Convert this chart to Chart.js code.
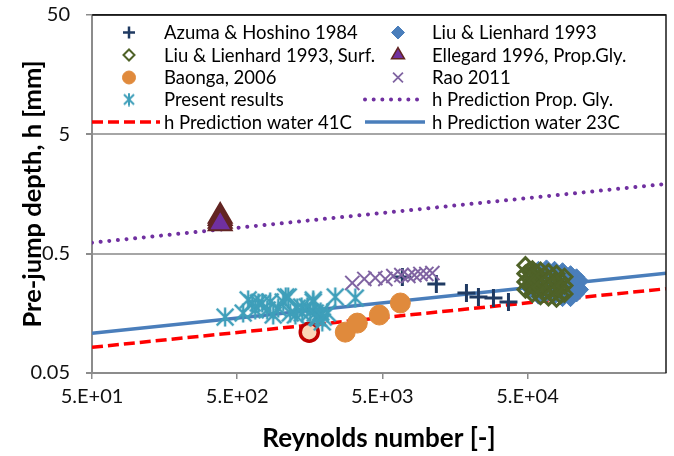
<!DOCTYPE html>
<html><head><meta charset="utf-8">
<script src="https://cdn.jsdelivr.net/npm/chart.js@4"></script>
<style>html,body{margin:0;padding:0;background:#fff}#c{display:block}</style>
</head><body>
<canvas id="c" width="674" height="456"></canvas>
<script>
// ---------- data ----------
const seriesNames = ['Azuma & Hoshino 1984','Liu & Lienhard 1993','Liu & Lienhard 1993, Surf.','Ellegard 1996, Prop.Gly.','Baonga, 2006','Rao 2011','Present results','h Prediction Prop. Gly.','h Prediction water 41C','h Prediction water 23C'];

const xTickValues = [50, 500, 5000, 50000];
const xTickLabels = ['5.E+01','5.E+02','5.E+03','5.E+04'];
const yTickValues = [0.05, 0.5, 5, 50];
const yTickLabels = ['0.05','0.5','5','50'];

const azumaRe = [6870, 11780, 18990, 22970, 29150, 36980];
const azumaH  = [0.319, 0.279, 0.234, 0.217, 0.2125, 0.197];

const liuRe = [52400,52400,52400, 59500,59500,59500,59500, 67600,67600,67600,67600, 76800,76800,76800,76800, 87200,87200,87200,87200, 99000,99000,99000,99000, 108900,108900,108900, 116000,116000];
const liuH  = [0.36,0.30,0.25, 0.37,0.31,0.26,0.22, 0.38,0.32,0.27,0.23, 0.37,0.31,0.26,0.22, 0.36,0.30,0.25,0.21, 0.34,0.29,0.24,0.21, 0.32,0.27,0.23, 0.295,0.25];

const liuSurfRe = [48400,48400,48400,48400, 51200,51200,51200, 54100,54100,54100,54100, 57700,57700,57700, 61500,61500,61500,61500, 65500,65500,65500, 69800,69800,69800,69800, 74300,74300,74300, 79200,79200,79200,79200, 84500,84500,84500, 89900,89900,89900];
const liuSurfH  = [0.40,0.34,0.29,0.25, 0.36,0.31,0.27, 0.37,0.32,0.27,0.23, 0.345,0.295,0.25, 0.36,0.30,0.26,0.22, 0.33,0.28,0.24, 0.35,0.30,0.25,0.215, 0.32,0.27,0.23, 0.34,0.29,0.245,0.21, 0.30,0.26,0.225, 0.32,0.27,0.23];

const ellegardRe = [382, 382, 382, 382];
const ellegardH  = [1.03, 0.986, 0.939, 0.895];

const baongaRe = [1569, 2778, 3362, 4767, 6655];
const baongaH  = [0.110, 0.110, 0.131, 0.153, 0.193];

const raoRe = [3105, 3757, 4474, 5245, 5954, 6761, 7556, 8310, 9143, 10055, 11060];
const raoH  = [0.284, 0.307, 0.313, 0.307, 0.325, 0.331, 0.325, 0.331, 0.338, 0.338, 0.344];

const presentRe = [413, 550, 595, 635, 666, 700, 744, 805, 844, 886, 959, 1038, 1080, 1124, 1160, 1260, 1297, 1390, 1404, 1520, 1594, 1672, 1672, 1726, 1770, 1810, 1880, 1929, 1960, 2088, 2371, 3257];
const presentH  = [0.147, 0.159, 0.205, 0.193, 0.169, 0.193, 0.193, 0.169, 0.197, 0.153, 0.175, 0.197, 0.217, 0.217, 0.159, 0.153, 0.175, 0.179, 0.159, 0.179, 0.162, 0.197, 0.205, 0.159, 0.147, 0.1445, 0.162, 0.134, 0.147, 0.159, 0.217, 0.2125];

const predRe = [50, 450000];
const predPropGlyH = [0.618, 1.92];
const pred41H = [0.0821, 0.254];
const pred23H = [0.1076, 0.342];

// ---------- helpers ----------
const pts = (xs, ys) => xs.map((x, i) => ({x: x, y: ys[i]}));

function asterisk(size, lw, color, k) {
  const c = document.createElement('canvas');
  c.width = size; c.height = size;
  const g = c.getContext('2d');
  g.strokeStyle = color; g.lineWidth = lw; g.lineCap = 'butt';
  const m = size / 2, d = size * k;
  g.beginPath();
  g.moveTo(m - d, m - d); g.lineTo(m + d, m + d);
  g.moveTo(m + d, m - d); g.lineTo(m - d, m + d);
  g.moveTo(m, 0.5); g.lineTo(m, size - 0.5);
  g.stroke();
  return c;
}
const cyan = '#3f9fba';
const starBig = asterisk(20, 2.4, cyan, 0.42);
const starSmall = asterisk(14, 2, cyan, 0.36);

const baongaBg = baongaRe.map((v, i) => i === 0 ? '#fbd5b6' : '#e08a3c');
const baongaBorder = baongaRe.map((v, i) => i === 0 ? '#c00000' : '#e08a3c');
const baongaBW = baongaRe.map((v, i) => i === 0 ? 3.5 : 1);
const baongaR = baongaRe.map((v, i) => i === 0 ? 9 : 10);

const datasets = [
  {label: seriesNames[0], data: pts(azumaRe, azumaH), pointStyle: 'cross', pointRadius: 9, pointBorderWidth: 3,
   borderColor: '#1f3a62', backgroundColor: '#1f3a62', order: 7},
  {label: seriesNames[1], data: pts(liuRe, liuH), pointStyle: 'rectRot', pointRadius: 8, pointBorderWidth: 1,
   borderColor: '#4a7ebb', backgroundColor: '#4a7ebb', order: 6},
  {label: seriesNames[2], data: pts(liuSurfRe, liuSurfH), pointStyle: 'rectRot', pointRadius: 7.5, pointBorderWidth: 3,
   borderColor: '#4f6228', backgroundColor: 'rgba(255,255,255,0)', order: 5},
  {label: seriesNames[3], data: pts(ellegardRe, ellegardH), pointStyle: 'triangle', pointRadius: 13.3, pointBorderWidth: 2,
   borderColor: '#632523', backgroundColor: '#7030a0', order: 4},
  {label: seriesNames[4], data: pts(baongaRe, baongaH), pointStyle: 'circle', pointRadius: baongaR, pointBorderWidth: baongaBW,
   borderColor: baongaBorder, backgroundColor: baongaBg, pointBorderColor: baongaBorder, pointBackgroundColor: baongaBg, order: 3},
  {label: seriesNames[5], data: pts(raoRe, raoH), pointStyle: 'crossRot', pointRadius: 10, pointBorderWidth: 2,
   borderColor: '#8064a2', backgroundColor: '#8064a2', order: 2},
  {label: seriesNames[6], data: pts(presentRe, presentH), pointStyle: starBig, pointRadius: 10,
   borderColor: cyan, backgroundColor: cyan, order: 1},
  {label: seriesNames[7], data: pts(predRe, predPropGlyH), showLine: true, pointRadius: 0, borderColor: '#7030a0',
   borderWidth: 4, borderDash: [0.01, 8.66], borderCapStyle: 'round', order: 10},
  {label: seriesNames[8], data: pts(predRe, pred41H), showLine: true, pointRadius: 0, borderColor: '#ff0000',
   borderWidth: 3.5, borderDash: [11, 5], order: 10},
  {label: seriesNames[9], data: pts(predRe, pred23H), showLine: true, pointRadius: 0, borderColor: '#4a7ebb',
   borderWidth: 3.5, order: 10}
];

// ---------- legend + frame plugin ----------
const legendItems = [
  {ds: 0, col: 0, row: 0, r: 6, bw: 2.5},
  {ds: 1, col: 1, row: 0, r: 6.5, bw: 1},
  {ds: 2, col: 0, row: 1, r: 5.5, bw: 2},
  {ds: 3, col: 1, row: 1, r: 7.5, bw: 1.5},
  {ds: 4, col: 0, row: 2, r: 6.5, bw: 1, bg: '#e08a3c', bc: '#e08a3c'},
  {ds: 5, col: 1, row: 2, r: 7, bw: 1.8},
  {ds: 6, col: 0, row: 3, img: starSmall},
  {ds: 7, col: 1, row: 3},
  {ds: 8, col: 0, row: 4},
  {ds: 9, col: 1, row: 4}
];
const framePlugin = {
  id: 'frameLegend',
  afterDraw(chart) {
    const ctx = chart.ctx, a = chart.chartArea;
    ctx.save();
    ctx.strokeStyle = '#1a1a1a'; ctx.lineWidth = 1.5;
    ctx.beginPath(); ctx.moveTo(a.left, a.top); ctx.lineTo(a.right, a.top); ctx.lineTo(a.right, a.bottom); ctx.stroke();
    ctx.restore();
    const markerX = [129, 398], textX = [164, 432], lineX = [[92, 160], [365, 425]];
    const rowY = [32.5, 55, 77.5, 99.5, 122];
    ctx.save();
    legendItems.forEach(it => {
      const ds = chart.data.datasets[it.ds];
      const y = rowY[it.row];
      if (ds.showLine) {
        ctx.save();
        ctx.strokeStyle = ds.borderColor; ctx.lineWidth = ds.borderWidth;
        ctx.setLineDash(ds.borderDash || []); ctx.lineCap = ds.borderCapStyle || 'butt';
        ctx.beginPath(); ctx.moveTo(lineX[it.col][0], y); ctx.lineTo(lineX[it.col][1], y); ctx.stroke();
        ctx.restore();
      } else {
        ctx.save();
        ctx.fillStyle = it.bg || ds.backgroundColor; ctx.strokeStyle = it.bc || ds.borderColor;
        ctx.lineWidth = it.bw || 1;
        Chart.helpers.drawPoint(ctx, {pointStyle: it.img || ds.pointStyle, radius: it.r || 6, borderWidth: it.bw || 1, rotation: 0}, markerX[it.col], y);
        ctx.restore();
      }
      ctx.fillStyle = '#000'; ctx.font = '18.5px Lato'; ctx.textBaseline = 'middle'; ctx.textAlign = 'left';
      ctx.fillText(ds.label, textX[it.col], y + 1);
    });
    ctx.restore();
  }
};

// ---------- chart ----------
new Chart(document.getElementById('c'), {
  type: 'scatter',
  data: {datasets: datasets},
  plugins: [framePlugin],
  options: {
    responsive: false, animation: false, devicePixelRatio: 1,
    layout: {autoPadding: false, padding: {left: 0, right: 8, top: 15, bottom: 0}},
    plugins: {legend: {display: false}, tooltip: {enabled: false}},
    scales: {
      x: {
        type: 'logarithmic', min: 50, max: 450000,
        afterBuildTicks: s => { s.ticks = xTickValues.map(v => ({value: v})); },
        afterFit: s => { s.height = 83; s.paddingLeft = 0; s.paddingRight = 0; },
        ticks: {callback: v => xTickLabels[xTickValues.indexOf(v)], font: {family: 'Lato', size: 20}, color: '#111', padding: 6, maxRotation: 0, autoSkip: false},
        grid: {drawOnChartArea: false, drawTicks: true, tickLength: 6, color: '#8c8c8c', lineWidth: 1.5},
        border: {color: '#8c8c8c', width: 2},
        title: {display: true, text: 'Reynolds number [-]', font: {family: 'Lato', size: 26, weight: 'bold'}, color: '#000', padding: {top: 0, bottom: 2}}
      },
      y: {
        type: 'logarithmic', min: 0.05, max: 50,
        afterBuildTicks: s => { s.ticks = yTickValues.map(v => ({value: v})); },
        afterFit: s => { s.width = 92; s.paddingTop = 0; s.paddingBottom = 0; },
        ticks: {callback: v => yTickLabels[yTickValues.indexOf(v)], font: {family: 'Lato', size: 20}, color: '#111', padding: 16, autoSkip: false},
        grid: {
          drawTicks: true, tickLength: 6, tickColor: '#8c8c8c',
          color: c => (c.tick && c.tick.value === 50) ? '#1a1a1a' : '#a6a6a6',
          lineWidth: c => (c.tick && c.tick.value === 50) ? 1.5 : 2
        },
        border: {color: '#8c8c8c', width: 2},
        title: {display: true, text: 'Pre-jump depth, h [mm]', font: {family: 'Lato', size: 25.5, weight: 'bold'}, color: '#000', padding: {top: 17, bottom: 0}}
      }
    }
  }
});
</script>
</body></html>
